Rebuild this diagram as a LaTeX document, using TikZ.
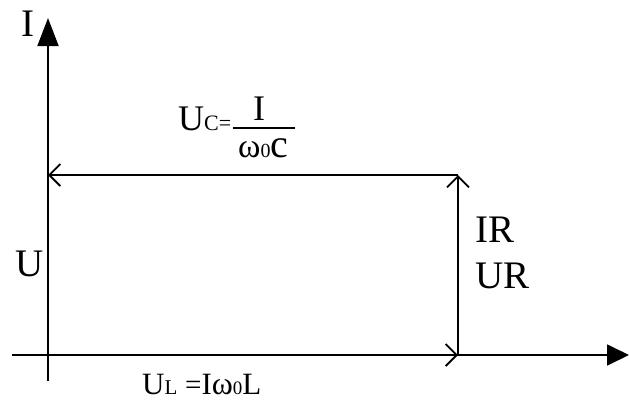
\documentclass[tikz,border=0pt]{standalone}
\usepackage{fontspec}
\setmainfont{Liberation Serif}
\usetikzlibrary{arrows.meta}
\newcommand\myfs[1]{\fontsize{#1bp}{#1bp}\selectfont}
\tikzset{
  axisline/.style={line width=1.8bp, -{Triangle[length=28bp,width=21bp]}},
  vec/.style={line width=1.8bp, -{Straight Barb[length=11bp,width=22bp]}},
  lbl/.style={inner sep=0pt, anchor=base west, font=\myfs{39}},
}
\begin{document}
\begin{tikzpicture}[x=1bp,y=-1bp]
\useasboundingbox (0,0) rectangle (629,406);
% coordinates
\coordinate (yb) at (48,381);
\coordinate (yt) at (48,18);
\coordinate (xl) at (12,355);
\coordinate (xr) at (629,355);
\coordinate (O) at (48,355);
\coordinate (A) at (458,355);
\coordinate (B) at (458,175);
\coordinate (C) at (48,175);
\coordinate (f1) at (233,128);
\coordinate (f2) at (295,128);
% axes
\draw[axisline] (yb) -- (yt);
\draw[axisline, -{Triangle[length=22bp,width=21bp]}] (xl) -- (xr);
% vectors
\draw[vec] (O) -- (A);
\draw[vec] (A) -- (B);
\draw[vec] (B) -- (C);
% labels
\node[lbl] (tI) at (21,36) {I};
\node[lbl] (tU) at (15,276) {U};
\node[lbl] (tIR) at (475,242) {IR};
\node[lbl] (tUR) at (475,288) {UR};
\node[lbl, font=\myfs{36}] (tUC) at (178,130) {U{\myfs{22}C=}};
\draw[line width=1.5bp] (f1) -- (f2);
\node[lbl, font=\myfs{36}, anchor=base] (num) at (259,120) {I};
\node[lbl, font=\myfs{40}] (den) at (238,157) {{\myfs{34}ω}{\myfs{20}0}c};
\node[lbl, font=\myfs{31}] (tUL) at (142,394) {U{\myfs{21}L} {\myfs{29}=}I{\myfs{32}ω}{\myfs{19}0}L};
\end{tikzpicture}
\end{document}
